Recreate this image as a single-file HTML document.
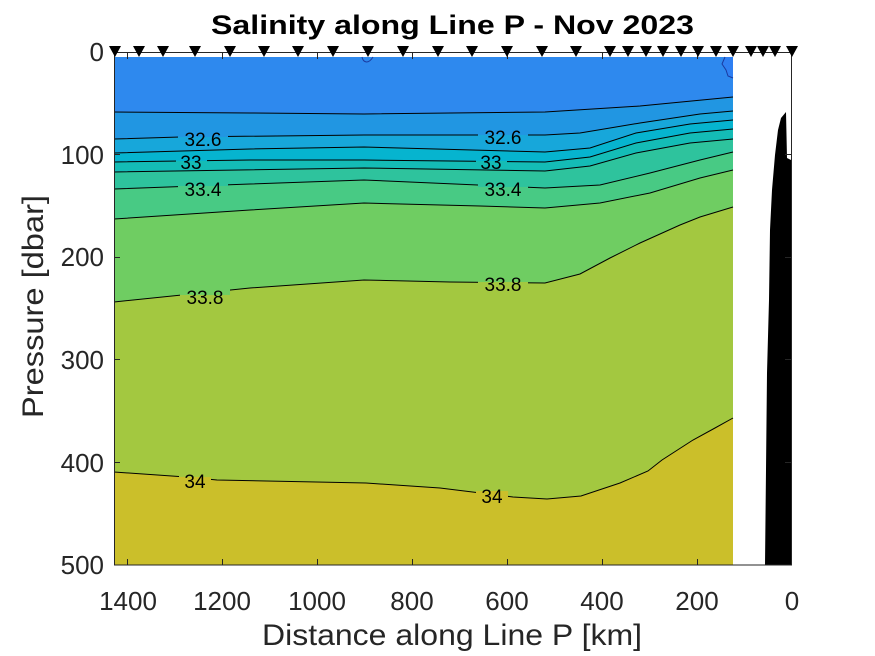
<!DOCTYPE html>
<html><head><meta charset="utf-8"><style>
body{margin:0;background:#fff}
svg{display:block}
text{font-family:"Liberation Sans",Arial,sans-serif}
</style></head><body>
<svg width="875" height="656" viewBox="0 0 875 656" xmlns="http://www.w3.org/2000/svg">
<rect width="875" height="656" fill="#fff"/>
<g id="bands">
<rect x="114" y="57" width="619" height="508" fill="#cbbf2a"/>
<path fill="#a3c840" d="M114,57 L733,57 L733,418 L715,428 L693,440 L662,460 L648,471 L620,483 L581,496 L547,499 L513,497 L440,488 L366,483 L217,480 L186,477 L114,472 Z"/>
<path fill="#6fcd62" d="M114,57 L733,57 L733,207 L700,217 L680,225 L640,243 L610,258 L580,274 L545,283 L450,282 L364,280 L250,288 L114,302 Z"/>
<path fill="#48ca84" d="M114,57 L733,57 L733,170 L700,178 L650,193 L600,203 L545,208 L480,206 L364,203 L250,210 L114,219 Z"/>
<path fill="#2ec39d" d="M114,57 L733,57 L733,152 L700,160 L650,173 L600,185 L545,188 L364,180 L250,184 L114,189 Z"/>
<path fill="#14bcb6" d="M114,57 L733,57 L733,139 L690,143 L636,153 L590,166 L545,171 L364,168 L114,172 Z"/>
<path fill="#06b4cf" d="M114,57 L733,57 L733,129 L690,133 L636,143 L590,157 L545,162 L364,160 L250,160 L114,162 Z"/>
<path fill="#17a7da" d="M114,57 L733,57 L733,120 L690,124 L636,133 L590,148 L545,152 L364,147 L250,149 L114,153 Z"/>
<path fill="#2196e2" d="M114,57 L733,57 L733,111 L700,114 L640,123 L580,133 L545,135 L364,135 L180,137 L114,139 Z"/>
<path fill="#2e89ee" d="M114,57 L733,57 L733,97 L640,106 L545,112 L364,114 L250,113 L114,112 Z"/>
<path fill="#2f7ff2" d="M725,57 L733,57 L733,78 L728,76 L726,70 L722,64 Z"/>
</g>
<g fill="none" stroke="#000" stroke-width="1">
<polyline points="114,112 250,113 364,114 545,112 640,106 733,97"/>
<polyline points="114,139 180,137 364,135 545,135 580,133 640,123 700,114 733,111"/>
<polyline points="114,153 250,149 364,147 545,152 590,148 636,133 690,124 733,120"/>
<polyline points="114,162 250,160 364,160 545,162 590,157 636,143 690,133 733,129"/>
<polyline points="114,172 364,168 545,171 590,166 636,153 690,143 733,139"/>
<polyline points="114,189 250,184 364,180 545,188 600,185 650,173 700,160 733,152"/>
<polyline points="114,219 250,210 364,203 480,206 545,208 600,203 650,193 700,178 733,170"/>
<polyline points="114,302 250,288 364,280 450,282 545,283 580,274 610,258 640,243 680,225 700,217 733,207"/>
<polyline points="114,472 186,477 217,480 366,483 440,488 513,497 547,499 581,496 620,483 648,471 662,460 693,440 715,428 733,418"/>
<path d="M362,57 C363,62 368,65 373,57" stroke="#1a3aa0"/>
<path d="M725,57 L722,64 L726,70 L728,76 L733,78" stroke="#1a3aa0"/>
</g>
<g>
<rect x="178" y="130" width="50" height="8" fill="#2196e2"/><rect x="178" y="137" width="50" height="10" fill="#17a7da"/>
<rect x="478" y="128" width="50" height="8" fill="#2196e2"/><rect x="478" y="135" width="50" height="10" fill="#17a7da"/>
<rect x="176" y="154" width="31" height="8" fill="#06b4cf"/><rect x="176" y="161" width="31" height="8" fill="#14bcb6"/>
<rect x="476" y="154" width="31" height="8" fill="#06b4cf"/><rect x="476" y="161" width="31" height="8" fill="#14bcb6"/>
<rect x="178" y="179" width="50" height="8" fill="#2ec39d"/><rect x="178" y="186" width="50" height="10" fill="#48ca84"/>
<rect x="478" y="179" width="50" height="9" fill="#2ec39d"/><rect x="478" y="187" width="50" height="9" fill="#48ca84"/>
<rect x="180" y="287" width="50" height="9" fill="#6fcd62"/><rect x="180" y="295" width="50" height="10" fill="#a3c840"/>
<rect x="478" y="274" width="50" height="9" fill="#6fcd62"/><rect x="478" y="282" width="50" height="10" fill="#a3c840"/>
<rect x="179" y="470" width="32" height="8" fill="#a3c840"/><rect x="179" y="477" width="32" height="11" fill="#cbbf2a"/>
<rect x="476" y="485" width="32" height="7" fill="#a3c840"/><rect x="476" y="491" width="32" height="12" fill="#cbbf2a"/>
</g>
<g font-size="19" fill="#000" text-anchor="middle">
<text x="203" y="146">32.6</text>
<text x="503" y="144">32.6</text>
<text x="191" y="169">33</text>
<text x="491" y="169">33</text>
<text x="203" y="196">33.4</text>
<text x="503" y="196">33.4</text>
<text x="205" y="304">33.8</text>
<text x="503" y="291">33.8</text>
<text x="195" y="488">34</text>
<text x="492" y="503">34</text>
</g>
<path fill="#000" d="M765,565 L766,470 L767,373 L769,300 L770,230 L772,190 L775,155 L778,130 L781,118 L786,112 L787,158 L791,160 L791,565 Z"/>
<g stroke="#262626" stroke-width="1" fill="none">
<rect x="114.5" y="52.5" width="677" height="512.5"/>
<path d="M127.5,565 v-6 M222.5,565 v-6 M317.5,565 v-6 M412.5,565 v-6 M507.5,565 v-6 M602.5,565 v-6 M697.5,565 v-6
M127.5,53 v6 M222.5,53 v6 M317.5,53 v6 M412.5,53 v6 M507.5,53 v6 M602.5,53 v6 M697.5,53 v6
M114,154.5 h6 M114,257.5 h6 M114,359.5 h6 M114,462.5 h6
M791,154.5 h-6 M791,257.5 h-6 M791,359.5 h-6 M791,462.5 h-6"/>
</g>
<g fill="#000">
<path d="M109,46 h12 l-6,11 Z M133,46 h12 l-6,11 Z M157,46 h12 l-6,11 Z M189,46 h12 l-6,11 Z M224,46 h12 l-6,11 Z M258,46 h12 l-6,11 Z M292,46 h12 l-6,11 Z M327,46 h12 l-6,11 Z M362,46 h12 l-6,11 Z M397,46 h12 l-6,11 Z M432,46 h12 l-6,11 Z M466,46 h12 l-6,11 Z M501,46 h12 l-6,11 Z M536,46 h12 l-6,11 Z M570,46 h12 l-6,11 Z
M604,46 h12 l-6,11 Z M622,46 h12 l-6,11 Z M640,46 h12 l-6,11 Z M657,46 h12 l-6,11 Z M675,46 h12 l-6,11 Z M692,46 h12 l-6,11 Z M710,46 h12 l-6,11 Z M727,46 h12 l-6,11 Z M745,46 h12 l-6,11 Z M757,46 h12 l-6,11 Z M769,46 h12 l-6,11 Z M786,46 h12 l-6,11 Z"/>
</g>
<g font-size="26" fill="#262626">
<g text-anchor="middle">
<text x="128" y="610">1400</text>
<text x="222" y="610">1200</text>
<text x="317" y="610">1000</text>
<text x="412" y="610">800</text>
<text x="507" y="610">600</text>
<text x="602" y="610">400</text>
<text x="697" y="610">200</text>
<text x="792" y="610">0</text>
</g>
<g text-anchor="end">
<text x="104" y="61">0</text>
<text x="104" y="164">100</text>
<text x="104" y="266">200</text>
<text x="104" y="369">300</text>
<text x="104" y="472">400</text>
<text x="104" y="574">500</text>
</g>
<text x="262" y="645" font-size="30" textLength="380" lengthAdjust="spacingAndGlyphs">Distance along Line P [km]</text>
<text transform="translate(43,418) rotate(-90)" font-size="30" textLength="223" lengthAdjust="spacingAndGlyphs">Pressure [dbar]</text>
</g>
<text x="211" y="34" font-size="27" font-weight="bold" fill="#000" textLength="483" lengthAdjust="spacingAndGlyphs">Salinity along Line P - Nov 2023</text>
</svg>
</body></html>
